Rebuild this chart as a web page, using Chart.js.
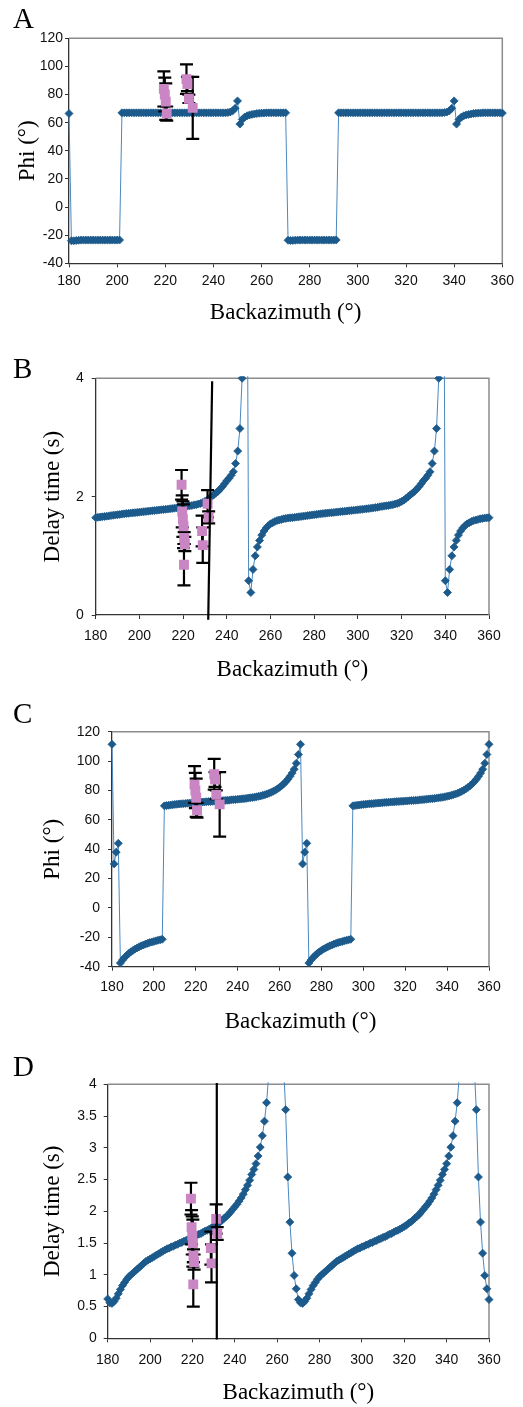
<!DOCTYPE html>
<html>
<head>
<meta charset="utf-8">
<script src="https://cdn.jsdelivr.net/npm/chart.js@4.4.1/dist/chart.umd.min.js"></script>
<style>
  body { margin: 0; background: #fff; }
  #wrap { position: relative; width: 523px; height: 1407px; overflow: hidden; }
  canvas { position: absolute; left: 0; }
  .lab { position: absolute; left: 13px; font-family: "Liberation Serif", "Times New Roman", serif; font-size: 29px; line-height: 29px; color: #000; }
</style>
</head>
<body>
<div id="wrap">
  <canvas id="cA" width="523" height="330" style="top:0px"></canvas>
  <canvas id="cB" width="523" height="350" style="top:340px"></canvas>
  <canvas id="cC" width="523" height="340" style="top:700px"></canvas>
  <canvas id="cD" width="523" height="367" style="top:1040px"></canvas>
  <div class="lab" style="top:4px">A</div>
  <div class="lab" style="top:354px">B</div>
  <div class="lab" style="top:699px">C</div>
  <div class="lab" style="top:1052px">D</div>
</div>
<script>
// backazimuth of the model points (deg)
const az = [
  180, 181, 182, 183, 184, 185, 186, 187, 188, 189,
  190, 191, 192, 193, 194, 195, 196, 197, 198, 199,
  200, 201, 202, 203, 204, 205, 206, 207, 208, 209,
  210, 211, 212, 213, 214, 215, 216, 217, 218, 219,
  220, 221, 222, 223, 224, 225, 226, 227, 228, 229,
  230, 231, 232, 233, 234, 235, 236, 237, 238, 239,
  240, 241, 242, 243, 244, 245, 246, 247, 248, 249,
  250, 251, 252, 253, 254, 255, 256, 257, 258, 259,
  260, 261, 262, 263, 264, 265, 266, 267, 268, 269,
  270, 271, 272, 273, 274, 275, 276, 277, 278, 279,
  280, 281, 282, 283, 284, 285, 286, 287, 288, 289,
  290, 291, 292, 293, 294, 295, 296, 297, 298, 299,
  300, 301, 302, 303, 304, 305, 306, 307, 308, 309,
  310, 311, 312, 313, 314, 315, 316, 317, 318, 319,
  320, 321, 322, 323, 324, 325, 326, 327, 328, 329,
  330, 331, 332, 333, 334, 335, 336, 337, 338, 339,
  340, 341, 342, 343, 344, 345, 346, 347, 348, 349,
  350, 351, 352, 353, 354, 355, 356, 357, 358, 359,
  360
];

// panel A: model fast direction
const phiA = [
  66.5, -24, -24, -23.8, -23.6, -23.5, -23.5, -23.5, -23.5, -23.5,
  -23.5, -23.5, -23.5, -23.5, -23.5, -23.5, -23.5, -23.5, -23.5, -23.5,
  -23.5, -23.4, 67, 67, 67, 67, 67, 67, 67, 67,
  67, 67, 67, 67, 67, 67, 67, 67, 67, 67,
  67, 67, 67, 67, 67, 67, 67, 67, 67, 67,
  67, 67, 67, 67, 67, 67, 67, 67, 67, 67,
  67, 67, 67, 67, 67, 67, 67.2, 67.6, 68.4, 70.2,
  75.5, 59, 62.3, 64, 64.9, 65.5, 65.9, 66.2, 66.5, 66.7,
  66.8, 66.9, 67, 67, 67, 67, 67, 67, 67, 67,
  67, -23.6, -23.8, -23.7, -23.6, -23.5, -23.5, -23.5, -23.5, -23.5,
  -23.5, -23.5, -23.5, -23.5, -23.5, -23.5, -23.5, -23.5, -23.5, -23.5,
  -23.5, -23.4, 67, 67, 67, 67, 67, 67, 67, 67,
  67, 67, 67, 67, 67, 67, 67, 67, 67, 67,
  67, 67, 67, 67, 67, 67, 67, 67, 67, 67,
  67, 67, 67, 67, 67, 67, 67, 67, 67, 67,
  67, 67, 67, 67, 67, 67, 67.2, 67.6, 68.4, 70.2,
  75.5, 59, 62.3, 64, 64.9, 65.5, 65.9, 66.2, 66.5, 66.7,
  66.8, 66.9, 67, 67, 67, 67, 67, 67, 67, 67,
  66.8
];

// panel B: model delay time
const dtB = [
  1.645, 1.65, 1.655, 1.66, 1.665, 1.67, 1.675, 1.68, 1.685, 1.69,
  1.695, 1.7, 1.705, 1.71, 1.714, 1.718, 1.722, 1.726, 1.73, 1.734,
  1.738, 1.742, 1.746, 1.75, 1.754, 1.758, 1.762, 1.766, 1.77, 1.774,
  1.778, 1.782, 1.786, 1.79, 1.795, 1.8, 1.805, 1.81, 1.815, 1.82,
  1.83, 1.835, 1.84, 1.845, 1.85, 1.86, 1.865, 1.875, 1.885, 1.9,
  1.92, 1.94, 1.97, 2.0, 2.03, 2.06, 2.09, 2.13, 2.17, 2.22,
  2.27, 2.31, 2.36, 2.42, 2.56, 2.77, 3.15, 4.0, 8, 9,
  0.58, 0.38, 0.77, 1.0, 1.15, 1.26, 1.35, 1.42, 1.47, 1.51,
  1.54, 1.56, 1.58, 1.595, 1.605, 1.615, 1.625, 1.632, 1.638, 1.642,
  1.645, 1.65, 1.655, 1.66, 1.665, 1.67, 1.675, 1.68, 1.685, 1.69,
  1.695, 1.7, 1.705, 1.71, 1.714, 1.718, 1.722, 1.726, 1.73, 1.734,
  1.738, 1.742, 1.746, 1.75, 1.754, 1.758, 1.762, 1.766, 1.77, 1.774,
  1.778, 1.782, 1.786, 1.79, 1.795, 1.8, 1.805, 1.81, 1.815, 1.82,
  1.83, 1.835, 1.84, 1.845, 1.85, 1.86, 1.865, 1.875, 1.885, 1.9,
  1.92, 1.94, 1.97, 2.0, 2.03, 2.06, 2.09, 2.13, 2.17, 2.22,
  2.27, 2.31, 2.36, 2.42, 2.56, 2.77, 3.15, 4.0, 8, 9,
  0.58, 0.38, 0.77, 1.0, 1.15, 1.26, 1.35, 1.42, 1.47, 1.51,
  1.54, 1.56, 1.58, 1.595, 1.605, 1.615, 1.625, 1.632, 1.638, 1.642,
  1.645
];

// panel C: model fast direction
const phiC = [
  111.4, 30, 38, 44, -37.5, -35.5, -33.8, -32.3, -31, -29.9,
  -28.9, -28, -27.2, -26.5, -25.8, -25.2, -24.6, -24.1, -23.6, -23.2,
  -22.8, -22.4, -22, -21.7, -21.3, 69.5, 69.7, 69.9, 70.1, 70.3,
  70.5, 70.6, 70.8, 70.9, 71, 71.1, 71.3, 71.4, 71.5, 71.6,
  71.8, 71.9, 72, 72.1, 72.2, 72.3, 72.4, 72.5, 72.6, 72.7,
  72.8, 72.9, 73, 73.1, 73.2, 73.3, 73.4, 73.6, 73.7, 73.8,
  74, 74.1, 74.3, 74.4, 74.6, 74.8, 75, 75.2, 75.4, 75.7,
  76, 76.3, 76.7, 77.1, 77.6, 78.1, 78.7, 79.4, 80.2, 81.1,
  82.1, 83.2, 84.5, 86, 87.7, 89.6, 91.8, 94.5, 98.5, 104.5,
  111.4, 30, 38, 44, -37.5, -35.5, -33.8, -32.3, -31, -29.9,
  -28.9, -28, -27.2, -26.5, -25.8, -25.2, -24.6, -24.1, -23.6, -23.2,
  -22.8, -22.4, -22, -21.7, -21.3, 69.5, 69.7, 69.9, 70.1, 70.3,
  70.5, 70.6, 70.8, 70.9, 71, 71.1, 71.3, 71.4, 71.5, 71.6,
  71.8, 71.9, 72, 72.1, 72.2, 72.3, 72.4, 72.5, 72.6, 72.7,
  72.8, 72.9, 73, 73.1, 73.2, 73.3, 73.4, 73.6, 73.7, 73.8,
  74, 74.1, 74.3, 74.4, 74.6, 74.8, 75, 75.2, 75.4, 75.7,
  76, 76.3, 76.7, 77.1, 77.6, 78.1, 78.7, 79.4, 80.2, 81.1,
  82.1, 83.2, 84.5, 86, 87.7, 89.6, 91.8, 94.5, 98.5, 104.5,
  111.4
];

// panel D: model delay time (values above 4 run off the top)
const dtD = [
  0.62, 0.56, 0.55, 0.58, 0.63, 0.7, 0.77, 0.83, 0.88, 0.93,
  0.97, 1.0, 1.03, 1.06, 1.09, 1.12, 1.15, 1.18, 1.21, 1.23,
  1.25, 1.27, 1.29, 1.31, 1.33, 1.35, 1.37, 1.39, 1.41, 1.42,
  1.44, 1.45, 1.47, 1.48, 1.5, 1.51, 1.53, 1.54, 1.56, 1.57,
  1.59, 1.6, 1.62, 1.64, 1.65, 1.67, 1.69, 1.7, 1.72, 1.74,
  1.76, 1.78, 1.81, 1.83, 1.86, 1.89, 1.92, 1.95, 1.99, 2.03,
  2.07, 2.11, 2.16, 2.21, 2.27, 2.34, 2.41, 2.49, 2.58, 2.66,
  2.75, 2.87, 3.01, 3.19, 3.42, 3.71, 4.15, 5.2, 7, 9,
  10, 8, 6, 4.3, 3.6, 2.54, 1.83, 1.34, 0.99, 0.78,
  0.61, 0.56, 0.55, 0.58, 0.63, 0.7, 0.77, 0.83, 0.88, 0.93,
  0.97, 1.0, 1.03, 1.06, 1.09, 1.12, 1.15, 1.18, 1.21, 1.23,
  1.25, 1.27, 1.29, 1.31, 1.33, 1.35, 1.37, 1.39, 1.41, 1.42,
  1.44, 1.45, 1.47, 1.48, 1.5, 1.51, 1.53, 1.54, 1.56, 1.57,
  1.59, 1.6, 1.62, 1.64, 1.65, 1.67, 1.69, 1.7, 1.72, 1.74,
  1.76, 1.78, 1.81, 1.83, 1.86, 1.89, 1.92, 1.95, 1.99, 2.03,
  2.07, 2.11, 2.16, 2.21, 2.27, 2.34, 2.41, 2.49, 2.58, 2.66,
  2.75, 2.87, 3.01, 3.19, 3.42, 3.71, 4.15, 5.2, 7, 9,
  10, 8, 6, 4.3, 3.6, 2.54, 1.83, 1.34, 0.99, 0.78,
  0.61
];

// measured splitting (pink squares, black error bars)
const obsPhiAz = [219.4, 219.8, 220.2, 220.6, 228.8, 229.2, 229.8, 231.4];
const obsPhi = [84, 80, 75, 66.5, 91, 87.5, 77, 70.5];
const obsPhiErr = [12.5, 12, 13, 5, 10.5, 5, 3, 22];

const obsDtAz = [219.3, 219.6, 219.9, 220.2, 220.5, 220.8, 220.4, 228.7, 229.0, 231.2, 231.7];
const obsDt = [2.2, 1.75, 1.62, 1.5, 1.3, 1.2, 0.85, 1.42, 1.18, 1.88, 1.65];
const obsDtErr = [0.25, 0.27, 0.3, 0.37, 0.1, 0.12, 0.35, 0.26, 0.3, 0.23, 0.1];

// long black line in B and D
const markBAz = [233.3, 231.5];
const markBDt = [3.95, -0.08];
const markDAz = [231.5, 231.5];
const markDDt = [4.02, -0.02];

const xTicks = [180, 200, 220, 240, 260, 280, 300, 320, 340, 360];
const phiTicks = [-40, -20, 0, 20, 40, 60, 80, 100, 120];
const dtTicksB = [0, 2, 4];
const dtTicksD = [0, 0.5, 1, 1.5, 2, 2.5, 3, 3.5, 4];

const tickFont = { family: '"Liberation Sans", Arial, sans-serif', size: 14 };
const titleFont = { family: '"Liberation Serif", "Times New Roman", serif', size: 23 };

// gray top/right edge of the plot area
const frame = {
  id: 'frame',
  beforeDatasetsDraw(chart) {
    const { left, right, top, bottom } = chart.chartArea;
    const c = chart.ctx;
    c.save();
    c.strokeStyle = '#8c8c8c';
    c.lineWidth = 1.5;
    c.beginPath();
    c.moveTo(left, top);
    c.lineTo(right, top);
    c.lineTo(right, bottom);
    c.stroke();
    c.restore();
  }
};

// error bars under the measured points
const errorBars = {
  id: 'errorBars',
  beforeDatasetDraw(chart, args) {
    const ds = chart.data.datasets[args.index];
    if (!ds.err) return;
    const xs = chart.scales.x, ys = chart.scales.y;
    const c = chart.ctx;
    c.save();
    c.strokeStyle = '#000';
    c.lineWidth = 2.2;
    ds.data.forEach((p, i) => {
      const px = xs.getPixelForValue(p.x);
      const hi = ys.getPixelForValue(p.y + ds.err[i]);
      const lo = ys.getPixelForValue(p.y - ds.err[i]);
      c.beginPath();
      c.moveTo(px, lo); c.lineTo(px, hi);
      c.moveTo(px - 6.5, lo); c.lineTo(px + 6.5, lo);
      c.moveTo(px - 6.5, hi); c.lineTo(px + 6.5, hi);
      c.stroke();
    });
    c.restore();
  }
};

function pts(xs, ys) {
  return xs.map((x, i) => ({ x: x, y: ys[i] }));
}

function panel(id, p) {
  const datasets = [
    {
      data: pts(az, p.model), showLine: true,
      borderColor: '#4a88c0', borderWidth: 1,
      pointStyle: 'rectRot', pointRadius: 4,
      pointBackgroundColor: '#1c5a8c', pointBorderColor: '#1c5a8c', pointBorderWidth: 0.8,
      clip: { left: 6, right: 6, top: 2, bottom: 6 }, order: 3
    },
    {
      data: pts(p.obsAz, p.obs), err: p.err, showLine: false,
      pointStyle: 'rect', pointRadius: 7,
      pointBackgroundColor: '#c985c4', pointBorderWidth: 0, order: 2
    }
  ];
  if (p.mark) {
    datasets.push({
      data: pts(p.mark[0], p.mark[1]), showLine: true,
      borderColor: '#000', borderWidth: 2.2, pointRadius: 0, clip: false, order: 1
    });
  }
  return new Chart(document.getElementById(id), {
    type: 'scatter',
    data: { datasets: datasets },
    options: {
      responsive: false,
      animation: false,
      layout: { padding: { left: 0, right: p.padR, top: p.padT, bottom: p.padB } },
      plugins: { legend: { display: false }, tooltip: { enabled: false } },
      scales: {
        x: {
          type: 'linear', position: 'bottom', min: 180, max: 360,
          afterBuildTicks: s => { s.ticks = xTicks.map(v => ({ value: v })); },
          afterFit: s => { s.height = p.xH; },
          ticks: { font: tickFont, color: '#111', padding: p.xTickPad, maxRotation: 0, autoSkip: false },
          grid: { drawOnChartArea: false, tickLength: 4, color: '#333' },
          border: { color: '#333', width: 1.3 },
          title: { display: true, text: 'Backazimuth (°)', font: titleFont, color: '#000', padding: { top: 0, bottom: 0 } }
        },
        y: {
          type: 'linear', position: 'left', min: p.ymin, max: p.ymax,
          afterBuildTicks: s => { s.ticks = p.yTicks.map(v => ({ value: v })); },
          afterFit: s => { s.width = p.yW; },
          ticks: { font: tickFont, color: '#111', padding: p.yTickPad, callback: v => String(v) },
          grid: { drawOnChartArea: false, tickLength: 4, color: '#333' },
          border: { color: '#333', width: 1.3 },
          title: { display: true, text: p.yTitle, font: titleFont, color: '#000', padding: { top: p.yTitlePad, bottom: 0 } }
        }
      }
    },
    plugins: [frame, errorBars]
  });
}

panel('cA', {
  model: phiA, obsAz: obsPhiAz, obs: obsPhi, err: obsPhiErr,
  ymin: -40, ymax: 120, yTicks: phiTicks, yTitle: 'Phi (°)',
  padR: 20.7, padT: 38.3, padB: 3.2, xH: 63.5, yW: 69,
  xTickPad: 5, yTickPad: 2, yTitlePad: 13.7
});

panel('cB', {
  model: dtB, obsAz: obsDtAz, obs: obsDt, err: obsDtErr, mark: [markBAz, markBDt],
  ymin: 0, ymax: 4, yTicks: dtTicksB, yTitle: 'Delay time (s)',
  padR: 34, padT: 38.3, padB: 6.2, xH: 68.8, yW: 95.7,
  xTickPad: 8.3, yTickPad: 8, yTitlePad: 39.2
});

panel('cC', {
  model: phiC, obsAz: obsPhiAz, obs: obsPhi, err: obsPhiErr,
  ymin: -40, ymax: 120, yTicks: phiTicks, yTitle: 'Phi (°)',
  padR: 34, padT: 31.7, padB: 4.2, xH: 69.1, yW: 112,
  xTickPad: 7.9, yTickPad: 8, yTitlePad: 39.2
});

panel('cD', {
  model: dtD, obsAz: obsDtAz, obs: obsDt, err: obsDtErr, mark: [markDAz, markDDt],
  ymin: 0, ymax: 4, yTicks: dtTicksD, yTitle: 'Delay time (s)',
  padR: 34, padT: 44.3, padB: 0, xH: 68.7, yW: 107.7,
  xTickPad: 9.3, yTickPad: 7, yTitlePad: 39.2
});
</script>
</body>
</html>
